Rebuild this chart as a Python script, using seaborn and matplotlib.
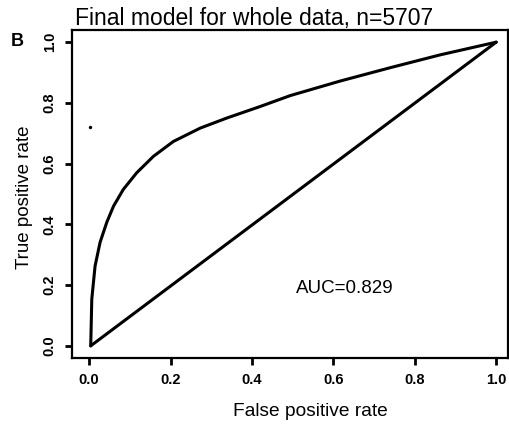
import numpy as np
import pandas as pd
import matplotlib
matplotlib.use("Agg")
import matplotlib.pyplot as plt
import seaborn as sns

# ROC curve
fpr = [0.004, 0.0066, 0.0147, 0.027, 0.0435, 0.060, 0.084, 0.117, 0.158, 0.207,
       0.273, 0.338, 0.420, 0.494, 0.617, 0.740, 0.862, 1.0]
tpr = [0.0, 0.154, 0.263, 0.341, 0.407, 0.460, 0.515, 0.570, 0.624, 0.673,
       0.717, 0.750, 0.788, 0.824, 0.872, 0.916, 0.958, 1.0]
diag_x = [0.004, 1.0]
diag_y = [0.0, 1.0]
dot_x = [0.0025]
dot_y = [0.722]
tick_vals = [0.0, 0.2, 0.4, 0.6, 0.8, 1.0]
tick_labels = ["0.0", "0.2", "0.4", "0.6", "0.8", "1.0"]
title = "Final model for whole data, n=5707"
panel = "B"
auc_text = "AUC=0.829"

sns.set_style("ticks")
plt.rcParams['font.family'] = ['Liberation Sans', 'DejaVu Sans']
plt.rcParams['text.color'] = 'black'
plt.rcParams['axes.labelcolor'] = 'black'
plt.rcParams['xtick.color'] = 'black'
plt.rcParams['ytick.color'] = 'black'

W, H = 510, 426
fig = plt.figure(figsize=(W / 100, H / 100), dpi=100)
ax_l, ax_r, ax_t, ax_b = 72, 508, 30, 358
ax = fig.add_axes([ax_l / W, 1 - ax_b / H, (ax_r - ax_l) / W, (ax_b - ax_t) / H])

roc = pd.DataFrame({"fpr": fpr, "tpr": tpr})
dg = pd.DataFrame({"x": diag_x, "y": diag_y})
sns.lineplot(data=roc, x="fpr", y="tpr", sort=False, color="black", lw=2.2, ax=ax)
sns.lineplot(data=dg, x="x", y="y", sort=False, color="black", lw=2.2, ax=ax)
sns.scatterplot(x=dot_x, y=dot_y, color="black", s=6, linewidth=0, ax=ax)

ax.set_xlim(-0.042, 1.029)
ax.set_ylim(-0.04, 1.04)
ax.set_xticks(tick_vals)
ax.set_xticklabels(tick_labels, fontsize=10.5, fontweight="bold")
ax.set_yticks(tick_vals)
ax.set_yticklabels(tick_labels, fontsize=10.5, fontweight="bold", rotation=90, va="center")
ax.tick_params(axis="both", direction="out", length=5, width=2, color="black", labelcolor="black")
ax.tick_params(axis="x", pad=6)
ax.tick_params(axis="y", pad=6)
for s in ax.spines.values():
    s.set_visible(True)
    s.set_linewidth(1.6)
    s.set_color("black")

ax.set_xlabel("False positive rate", fontsize=13.8)
ax.set_ylabel("True positive rate", fontsize=13.5)
ax.xaxis.set_label_coords((310 - ax_l) / (ax_r - ax_l), (ax_b - 412) / (ax_b - ax_t))
ax.xaxis.label.set_va("center")
ax.yaxis.set_label_coords((25 - ax_l) / (ax_r - ax_l), (ax_b - 197) / (ax_b - ax_t))
ax.yaxis.label.set_va("center")

ax.text(0.629, 0.19, auc_text, fontsize=13.5, ha="center", va="center")
fig.text(75 / W, 1 - 18 / H, title, fontsize=16.5, ha="left", va="center")
fig.text(17 / W, 1 - 42 / H, panel, fontsize=13, fontweight="bold", ha="center", va="center")

fig.savefig("out.png", dpi=100)
